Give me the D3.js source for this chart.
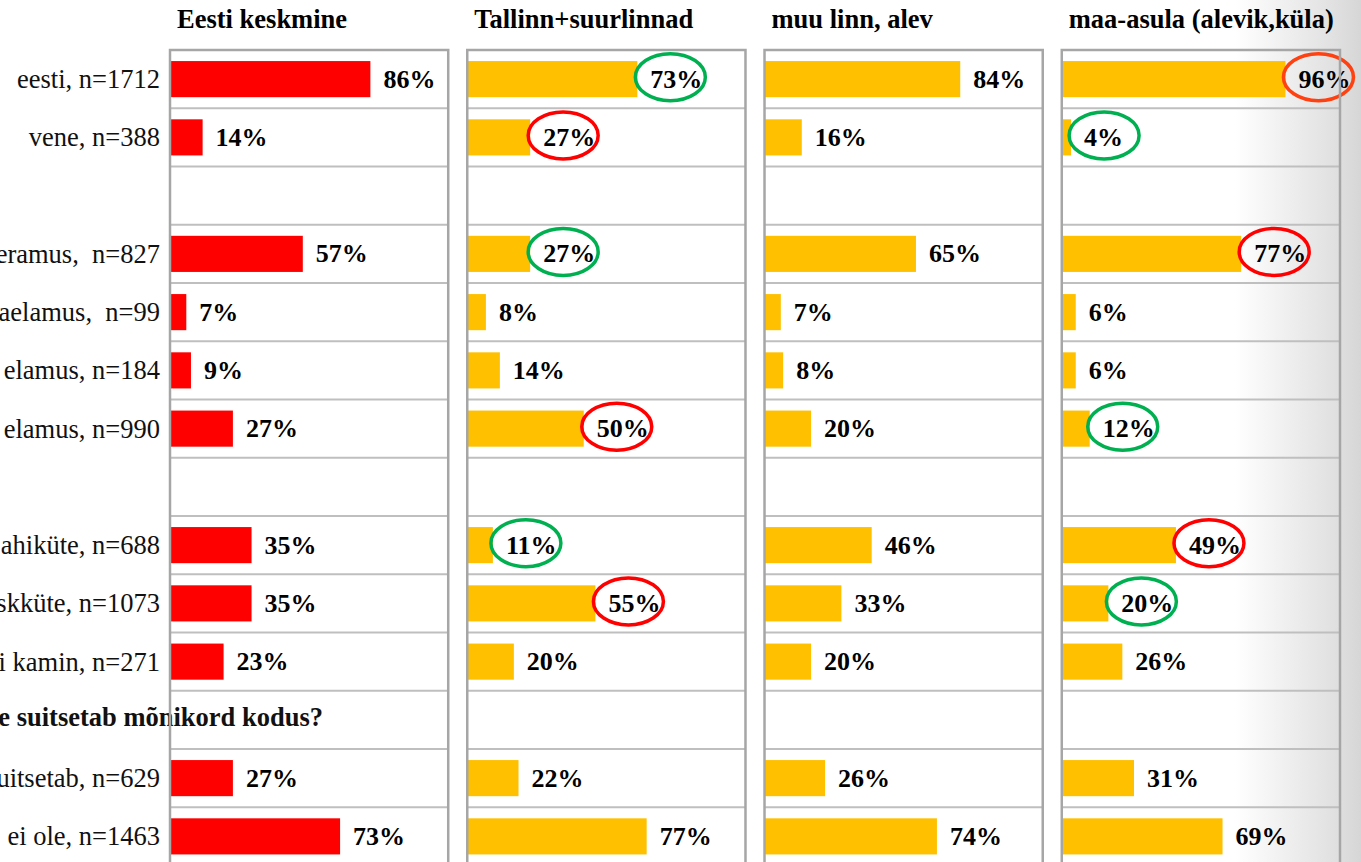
<!DOCTYPE html>
<html>
<head>
<meta charset="UTF-8">
<script src="https://d3js.org/d3.v7.min.js"></script>
<style>
  body { margin: 0; background: #fff; overflow: hidden; }
  svg { display: block; }
  text { font-family: "Liberation Serif", "Times New Roman", serif; white-space: pre; }
  .title { font-size: 26.5px; font-weight: bold; fill: #000; }
  .rowlabel { font-size: 26.5px; fill: #111; }
  .heading { font-size: 26.5px; font-weight: bold; fill: #111; }
  .value { font-size: 26px; font-weight: bold; fill: #000; }
</style>
</head>
<body>
<svg id="chart"></svg>
<script>
const panels = ["Eesti keskmine", "Tallinn+suurlinnad", "muu linn, alev", "maa-asula (alevik,küla)"];

const rowLabels = [
  "eesti, n=1712", "vene, n=388", "",
  "eramus,  n=827", "aelamus,  n=99", " elamus, n=184", " elamus, n=990", "",
  "ahiküte, n=688", "skküte, n=1073", "i kamin, n=271", "",
  "uitsetab, n=629", " ei ole, n=1463"
];

// heading rows (text sits in an empty row)
const headings = [{ row: 11, text: "e suitsetab mõnikord kodus?" }];

// percent values per panel, null = empty row
const eestiValues   = [86, 14, null, 57, 7, 9, 27, null, 35, 35, 23, null, 27, 73];
const tallinnValues = [73, 27, null, 27, 8, 14, 50, null, 11, 55, 20, null, 22, 77];
const linnValues    = [84, 16, null, 65, 7, 8, 20, null, 46, 33, 20, null, 26, 74];
const maaValues     = [96, 4, null, 77, 6, 6, 12, null, 49, 20, 26, null, 31, 69];
const panelValues = [eestiValues, tallinnValues, linnValues, maaValues];
const panelColors = ["#ff0000", "#ffc000", "#ffc000", "#ffc000"];

// circled labels
const highlights = [
  { panel: 1, row: 0, color: "#00b050" },
  { panel: 1, row: 1, color: "#ff0000" },
  { panel: 1, row: 3, color: "#00b050" },
  { panel: 1, row: 6, color: "#ff0000" },
  { panel: 1, row: 8, color: "#00b050" },
  { panel: 1, row: 9, color: "#ff0000" },
  { panel: 3, row: 0, color: "#ff4010" },
  { panel: 3, row: 1, color: "#00b050" },
  { panel: 3, row: 3, color: "#ff0000" },
  { panel: 3, row: 6, color: "#00b050" },
  { panel: 3, row: 8, color: "#ff0000" },
  { panel: 3, row: 9, color: "#00b050" }
];

const width = 1361, height = 862;
const gridTop = 50, rowStep = 58.25;

const svg = d3.select("#chart").attr("width", width).attr("height", height);

// right-edge shading
const grad = svg.append("defs").append("linearGradient")
  .attr("id", "edge").attr("x1", 0).attr("x2", 1).attr("y1", 0).attr("y2", 0);
grad.append("stop").attr("offset", "0").attr("stop-color", "#ffffff");
grad.append("stop").attr("offset", "0.8").attr("stop-color", "#e0e0e0");
grad.append("stop").attr("offset", "1").attr("stop-color", "#d6d6d6");
svg.append("rect").attr("x", 1235).attr("y", 0).attr("width", width - 1235).attr("height", height)
  .attr("fill", "url(#edge)");

const rows = d3.range(rowLabels.length);
const y = d3.scaleBand()
  .domain(rows)
  .range([gridTop, gridTop + rows.length * rowStep])
  .paddingInner(0.38)
  .paddingOuter(0.19);
const rowTop = r => gridTop + r * rowStep;
const rowMid = r => y(r) + y.bandwidth() / 2;

const px = d3.scaleBand()
  .domain(d3.range(panels.length))
  .range([170, 1340])
  .paddingInner(0.064)
  .paddingOuter(0);
const x = d3.scaleLinear().domain([0, 100]).range([0, 233]);

// row labels
svg.append("g").selectAll("text")
  .data(rows)
  .join("text")
  .attr("class", "rowlabel")
  .attr("x", 160)
  .attr("y", r => rowMid(r) + 9)
  .attr("text-anchor", "end")
  .text(r => rowLabels[r]);

svg.append("g").selectAll("text")
  .data(headings)
  .join("text")
  .attr("class", "heading")
  .attr("x", 323)
  .attr("y", d => rowMid(d.row) + 6)
  .attr("text-anchor", "end")
  .text(d => d.text);

panels.forEach((name, p) => {
  const g = svg.append("g").attr("transform", `translate(${px(p)},0)`);
  const w = px.bandwidth();

  g.append("text")
    .attr("class", "title")
    .attr("x", 7)
    .attr("y", 28)
    .text(name);

  // row separators
  g.append("g").selectAll("line")
    .data(d3.range(1, rows.length + 1))
    .join("line")
    .attr("x1", 0).attr("x2", w)
    .attr("y1", r => rowTop(r)).attr("y2", r => rowTop(r))
    .attr("stroke", "#bfbfbf")
    .attr("stroke-width", 2.2);

  const vals = panelValues[p].map((v, r) => ({ v, r })).filter(d => d.v !== null);

  g.append("g").selectAll("rect")
    .data(vals)
    .join("rect")
    .attr("x", 0)
    .attr("y", d => y(d.r))
    .attr("width", d => x(d.v))
    .attr("height", y.bandwidth())
    .attr("fill", panelColors[p]);

  g.append("g").selectAll("text")
    .data(vals)
    .join("text")
    .attr("class", "value")
    .attr("x", d => x(d.v) + 13)
    .attr("y", d => rowMid(d.r) + 8.5)
    .text(d => d.v + "%");

  g.append("g").selectAll("ellipse")
    .data(highlights.filter(h => h.panel === p))
    .join("ellipse")
    .attr("cx", h => x(panelValues[p][h.row]) + 33)
    .attr("cy", h => rowMid(h.row) - 2)
    .attr("rx", 35)
    .attr("ry", 23.5)
    .attr("fill", "none")
    .attr("stroke", h => h.color)
    .attr("stroke-width", 3.5);

  // panel frame
  g.append("path")
    .attr("d", `M0,${height + 10}V${gridTop}H${w}V${height + 10}`)
    .attr("fill", "none")
    .attr("stroke", "#a6a6a6")
    .attr("stroke-width", 2.5);
});
</script>
</body>
</html>
